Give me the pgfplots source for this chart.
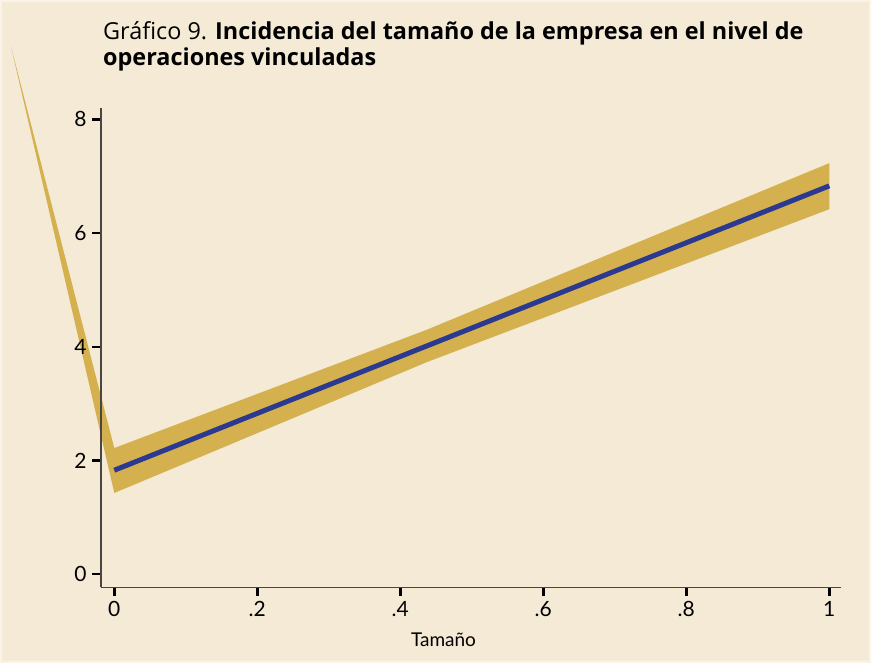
\documentclass[border=0pt]{standalone}
\usepackage{pgfplots}
\pgfplotsset{compat=1.18}
\usepackage{fontspec}
\setmainfont{Lato}
\newfontfamily\titlefont{Open Sans}

\definecolor{paper}{HTML}{F4EAD5}
\definecolor{paperedge}{HTML}{F9F3E8}
\definecolor{band}{HTML}{D4B14E}
\definecolor{fitline}{HTML}{2B3990}
\definecolor{axisgray}{HTML}{4A4742}

\begin{document}
\begin{tikzpicture}[x=1pt,y=1pt]
  % page background
  \fill[paperedge] (0,0) rectangle (871,663);
  \fill[paper] (2,2) rectangle (869,661);

  \begin{axis}[
    at={(114.3pt,88.7pt)}, anchor=origin,
    x=715pt, y=56.87pt,
    xmin=-0.0186, xmax=1.0163,
    ymin=-0.232, ymax=8.2,
    clip=false,
    set layers=axis on top,
    axis x line*=bottom, axis y line*=left,
    axis line style={draw=axisgray, line width=1.8pt, -},
    xtick={0,0.2,0.4,0.6,0.8,1},
    xticklabels={0,.2,.4,.6,.8,1},
    ytick={0,2,4,6,8},
    yticklabels={0,2,4,6,8},
    tick align=outside,
    major tick length=9pt,
    tick style={draw=black, line width=2.4pt},
    ticklabel style={font=\fontsize{21}{24}\selectfont, text=black},
    xticklabel style={yshift=-1pt},
    yticklabel style={xshift=-2pt},
  ]
    % confidence band of the linear fit
    \addplot[fill=band, draw=none] coordinates {
      (1,6.42) (0.437,3.73) (0,1.43) (-0.1445,9.28)
      (0,2.22) (0.437,4.30) (1,7.23)
    } -- cycle;
    % fitted line
    \addplot[fitline, line width=5pt] coordinates {(0,1.83) (1,6.83)};
  \end{axis}

  % title
  \node[anchor=base west, inner sep=0pt, font=\titlefont\fontsize{23.4}{27}\selectfont]
    at (103,623) {Gráfico 9. \textbf{Incidencia del tamaño de la empresa en el nivel de}};
  \node[anchor=base west, inner sep=0pt, font=\titlefont\fontsize{23.4}{27}\selectfont]
    at (103,597) {\textbf{operaciones vinculadas}};

  % x axis title
  \node[anchor=base, inner sep=0pt, font=\fontsize{19}{22}\selectfont]
    at (443.5,16.3) {Tamaño};

  \pgfresetboundingbox
  \path (0,0) rectangle (871,663);
\end{tikzpicture}
\end{document}
